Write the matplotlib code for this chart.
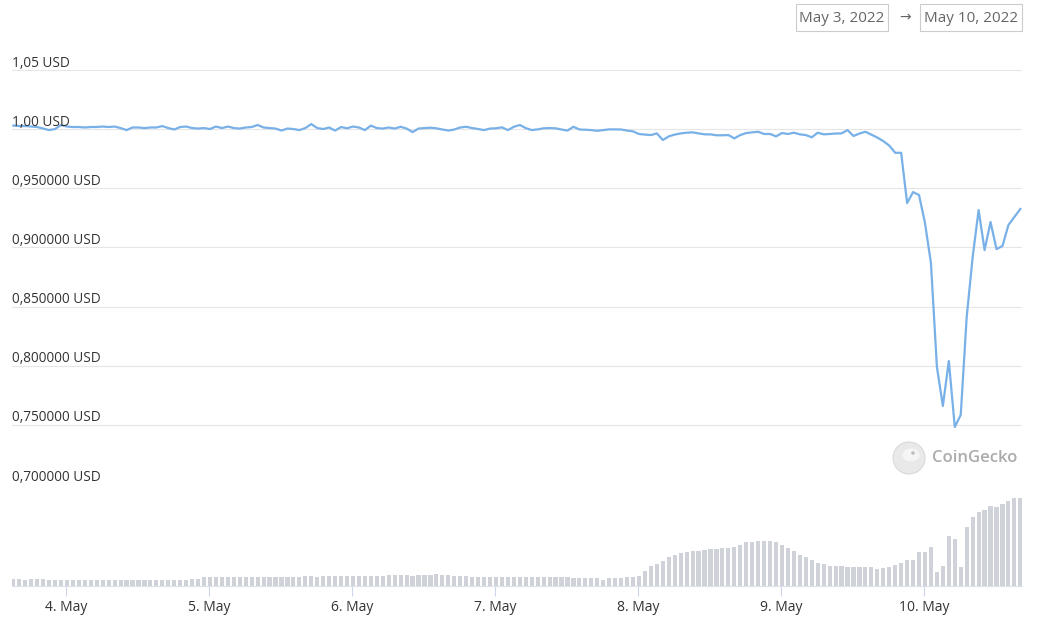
import pandas as pd
import matplotlib
matplotlib.use("Agg")
import matplotlib.pyplot as plt
from matplotlib.patches import Rectangle, Circle, Ellipse

plt.rcParams["font.family"] = ["Open Sans", "DejaVu Sans"]

# hourly samples, 3 May 2022 15:10 -> 10 May 2022 16:10
start_time = "2022-05-03 15:10"

price_usd = [
    1.0030, 1.0026, 1.0026, 1.0022, 1.0018, 1.0005, 0.9992, 1.0001, 1.0035, 1.0022,
    1.0018, 1.0018, 1.0014, 1.0018, 1.0018, 1.0022, 1.0018, 1.0022, 1.0009, 0.9992,
    1.0014, 1.0014, 1.0009, 1.0014, 1.0014, 1.0026, 1.0009, 0.9997, 1.0018, 1.0022,
    1.0009, 1.0005, 1.0009, 1.0001, 1.0022, 1.0009, 1.0022, 1.0009, 1.0005, 1.0014,
    1.0018, 1.0035, 1.0014, 1.0009, 1.0005, 0.9988, 1.0005, 1.0001, 0.9992, 1.0009,
    1.0043, 1.0009, 1.0001, 1.0014, 0.9988, 1.0018, 1.0007, 1.0022, 1.0014, 0.9992,
    1.0030, 1.0009, 1.0005, 1.0014, 1.0005, 1.0020, 1.0005, 0.9975, 1.0005, 1.0009,
    1.0012, 1.0007, 0.9997, 0.9988, 0.9997, 1.0014, 1.0020, 1.0009, 1.0001, 0.9992,
    1.0005, 1.0007, 1.0015, 0.9992, 1.0020, 1.0035, 1.0009, 0.9992, 0.9998, 1.0007,
    1.0009, 1.0007, 0.9997, 0.9988, 1.0020, 0.9997, 0.9995, 0.9992, 0.9986, 0.9992,
    0.9998, 0.9998, 0.9997, 0.9988, 0.9981, 0.9959, 0.9954, 0.9950, 0.9964, 0.9908,
    0.9939, 0.9954, 0.9964, 0.9970, 0.9973, 0.9964, 0.9956, 0.9956, 0.9948, 0.9948,
    0.9950, 0.9922, 0.9950, 0.9967, 0.9973, 0.9978, 0.9959, 0.9959, 0.9939, 0.9967,
    0.9959, 0.9970, 0.9956, 0.9950, 0.9931, 0.9970, 0.9956, 0.9959, 0.9963, 0.9964,
    0.9992, 0.9942, 0.9963, 0.9978, 0.9954, 0.9929, 0.9899, 0.9861, 0.9800, 0.9800,
    0.9375, 0.9468, 0.9443, 0.9206, 0.8868, 0.7989, 0.7660, 0.8040, 0.7482, 0.7584,
    0.8412, 0.8919, 0.9316, 0.8978, 0.9215, 0.8986, 0.9012, 0.9189, 0.9257, 0.9325,
]

# relative trading volume (no scale shown on the chart)
volume = [
    7, 7, 6, 7.5, 7.5, 7, 6.5, 6.5, 6.5, 6, 6.5, 6.5, 6, 6.5, 6.5, 6, 6.5, 6.5, 6.5, 6,
    6.5, 6.5, 6, 6.5, 6.5, 6.5, 6, 6.5, 6.5, 6.5, 7, 7,
    9, 9, 9.5, 9, 9, 9.5, 9, 9, 9.5, 9, 9, 9.5, 9.5, 9, 9.5, 9.5, 9.5, 10, 10, 9.5, 10, 10, 10,
    10, 10, 10, 10.5, 10, 10, 10.5, 10.5, 11, 11, 11, 11, 10.5, 11, 11, 11, 12, 11, 11, 10.5, 10.5,
    10, 9.5, 9.5, 9.5, 9.5, 9, 9.5, 9.5, 9, 9, 9.5, 9, 9, 9, 9.5, 9, 9, 9, 8.5, 8.5, 8, 8, 8.5,
    6, 7.7, 7.7, 7.7, 8.7, 8.7, 10, 15.3, 20, 22, 25, 28.7, 31, 32.7, 33.7, 35, 35, 36, 37, 37.3,
    38.3, 38.3, 39.3, 41, 43.7, 43.7, 45, 45, 45, 43.7, 41, 37.7, 35, 31, 28.7, 26, 23.3, 22, 20, 20,
    20, 18.7, 18.7, 18.7, 18.7, 18.7, 16.7, 18.3, 18.7, 21, 23.3, 26, 26, 33.7, 33.7, 38.7, 13.7, 20,
    50, 47, 18.7, 59.3, 68.7, 73.7, 76, 80, 78.7, 82, 85, 87.7, 87.7,
]

tick_days = pd.date_range("2022-05-04", "2022-05-10", freq="D")
tick_labels = [f"{d.day}. May" for d in tick_days]

y_ticks = [1.05, 1.00, 0.95, 0.90, 0.85, 0.80, 0.75, 0.70]
y_labels = ["1,05 USD", "1,00 USD", "0,950000 USD", "0,900000 USD",
            "0,850000 USD", "0,800000 USD", "0,750000 USD", "0,700000 USD"]

times = pd.date_range(start_time, periods=len(price_usd), freq="h")
x_left = pd.Timestamp("2022-05-04") - pd.Timedelta(days=54 / 143)
x_right = pd.Timestamp("2022-05-10") + pd.Timedelta(days=98 / 143)

W, H = 1046, 617
fig = plt.figure(figsize=(W / 100, H / 100), dpi=100)


def box(x0, y0, x1, y1):
    # pixel box (top-left origin) -> figure fraction rect
    return [x0 / W, 1 - y1 / H, (x1 - x0) / W, (y1 - y0) / H]


ax = fig.add_axes(box(12, 70, 1022, 484))
axv = fig.add_axes(box(12, 484, 1022, 586), sharex=ax)

line_color = "#78b0e8"
grid_color = "#e6e6e6"
text_color = "#333333"

ax.plot(times, price_usd, color=line_color, lw=1.6, solid_joinstyle="round")
ax.set_ylim(0.70, 1.05)
ax.set_xlim(x_left, x_right)
for v, lab in zip(y_ticks, y_labels):
    ax.axhline(v, color=grid_color, lw=0.8, zorder=0)
    ax.annotate(lab, (0, v), xycoords=ax.get_yaxis_transform(), xytext=(0, 2.5),
                textcoords="offset points", ha="left", va="baseline",
                fontsize=9.8, color=text_color)
ax.set_yticks([])
ax.tick_params(axis="x", bottom=False, labelbottom=False)
for s in ax.spines.values():
    s.set_visible(False)
ax.patch.set_alpha(0)

axv.bar(times, volume, width=0.7 / 24, color="#cfd2d8", align="center")
axv.set_ylim(0, 102)
axv.set_yticks([])
for s in ["top", "left", "right"]:
    axv.spines[s].set_visible(False)
axv.spines["bottom"].set_color("#dde2ea")
axv.set_xticks(tick_days)
axv.set_xticklabels(tick_labels)
axv.tick_params(axis="x", length=7, width=0.8, color="#ccd6eb", pad=3,
                labelsize=10, labelcolor=text_color)
axv.patch.set_alpha(0)

# date range boxes
tr = fig.dpi_scale_trans


def px_rect(x0, y0, x1, y1):
    return Rectangle((x0 / 100, (H - y1) / 100), (x1 - x0) / 100, (y1 - y0) / 100,
                     transform=tr, fill=False, edgecolor="#cccccc", lw=0.8)


fig.add_artist(px_rect(796, 4, 888, 31))
fig.add_artist(px_rect(920, 4, 1022, 31))
fig.text(842 / W, 1 - 18 / H, "May 3, 2022", ha="center", va="center",
         fontsize=11, color="#666666")
fig.text(905 / W, 1 - 18 / H, "\u2192", ha="center", va="center",
         fontsize=10, color="#666666")
fig.text(971 / W, 1 - 18 / H, "May 10, 2022", ha="center", va="center",
         fontsize=11, color="#666666")

# CoinGecko watermark
fig.add_artist(Circle((909 / 100, (H - 458) / 100), 0.16, transform=tr,
                      facecolor="#e9e9e9", edgecolor="#dadada", lw=0.8))
fig.add_artist(Ellipse((911 / 100, (H - 455) / 100), 0.17, 0.13, transform=tr,
                       facecolor="#f5f5f5", edgecolor="none"))
fig.add_artist(Circle((913 / 100, (H - 453) / 100), 0.018, transform=tr,
                      facecolor="#bdbdbd", edgecolor="none"))
fig.text(932 / W, 1 - 458 / H, "CoinGecko", ha="left", va="center",
         fontsize=12, color="#ababab", fontweight="semibold")

fig.savefig("out.png", dpi=100)
